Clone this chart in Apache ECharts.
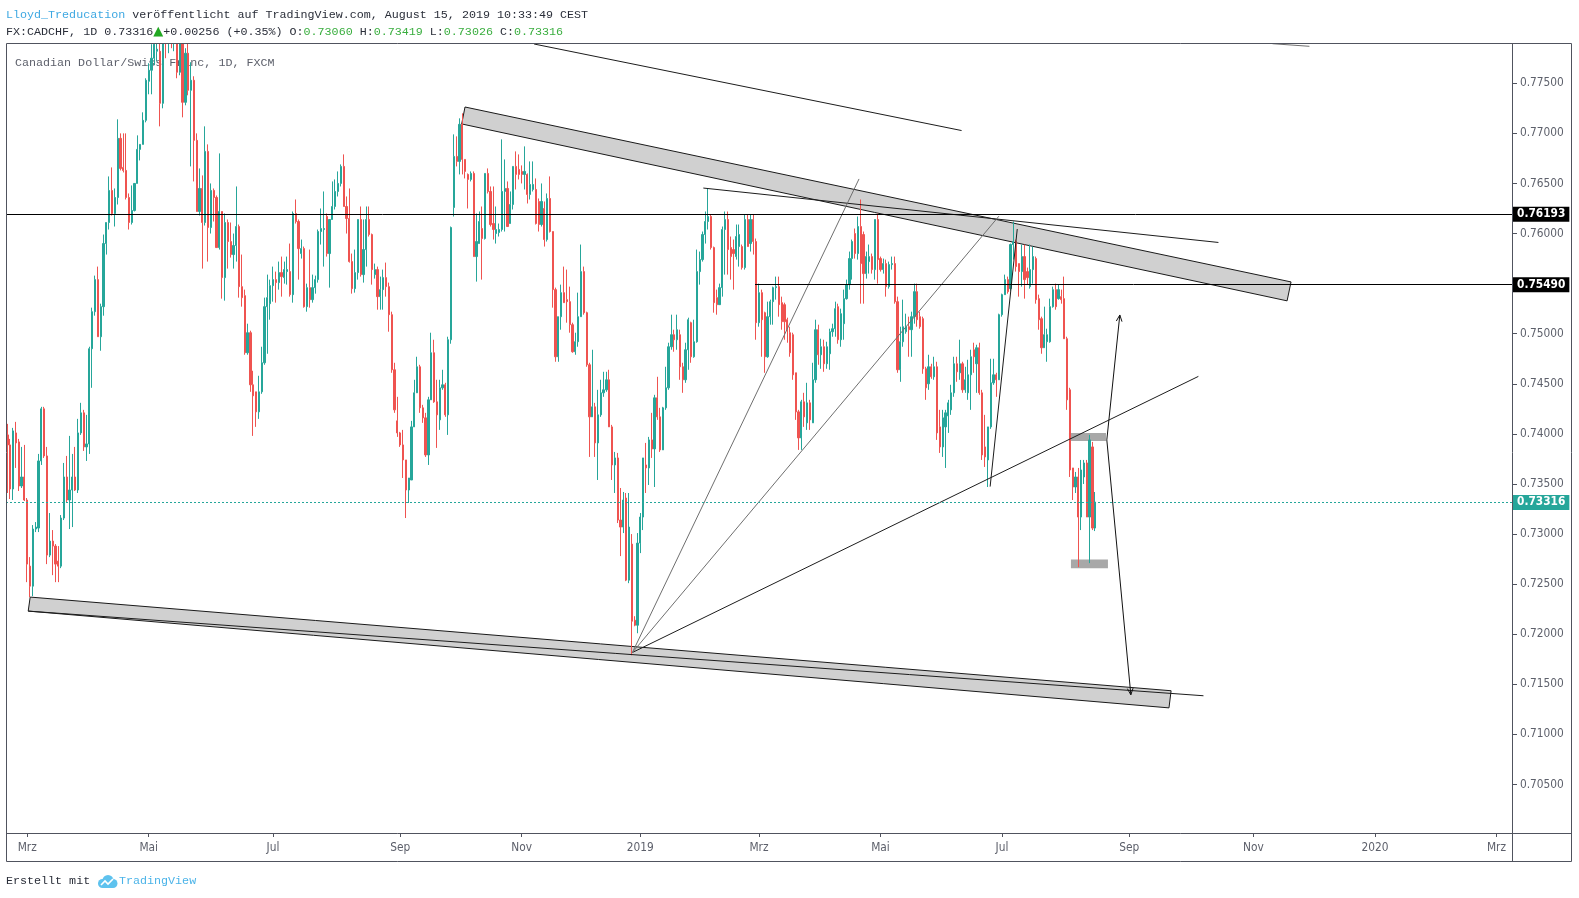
<!DOCTYPE html>
<html>
<head>
<meta charset="utf-8">
<title>CADCHF 1D</title>
<script src="https://cdn.jsdelivr.net/npm/echarts@6.0.0/dist/echarts.min.js"></script>
<style>
  html, body { margin: 0; padding: 0; background: #fff; }
  #chart { width: 1579px; height: 898px; }
</style>
</head>
<body>
<div id="chart"></div>
<script>
// bars are weekdays from the first bar on; the feed has no bar for these two holidays
const firstDay = '2018-02-20';
const holidays = ['2018-12-25', '2019-01-01'];
const barCount = 533;
const monthNames = ['Jan', 'Feb', 'Mrz', 'Apr', 'Mai', 'Jun', 'Jul', 'Aug', 'Sep', 'Okt', 'Nov', 'Dez'];

// daily candles: [open, close, low, high]
const candles = [
  [.7399,.7389,.7341,.7410],[.7389,.7345,.7335,.7395],[.7345,.7403,.7334,.7406],[.7401,.7391,.7366,.7412],[.7392,.7348,.7343,.7395],[.7348,.7357,.7346,.7387],
  [.7357,.7334,.7333,.7389],[.7334,.7270,.7252,.7336],[.7268,.7248,.7237,.7277],[.7248,.7305,.7238,.7309],[.7305,.7307,.7302,.7312],[.7306,.7373,.7302,.7380],
  [.7373,.7425,.7369,.7427],[.7425,.7378,.7376,.7427],[.7378,.7279,.7270,.7387],[.7279,.7293,.7277,.7321],[.7293,.7288,.7259,.7304],[.7288,.7270,.7252,.7290],
  [.7273,.7268,.7252,.7288],[.7268,.7316,.7266,.7319],[.7316,.7357,.7314,.7371],[.7357,.7334,.7332,.7378],[.7334,.7344,.7305,.7398],[.7344,.7357,.7307,.7380],
  [.7357,.7344,.7343,.7387],[.7344,.7401,.7341,.7415],[.7401,.7421,.7399,.7431],[.7421,.7387,.7383,.7424],[.7387,.7390,.7373,.7419],[.7390,.7485,.7380,.7487],
  [.7485,.7522,.7446,.7526],[.7522,.7554,.7518,.7558],[.7554,.7497,.7497,.7567],[.7497,.7527,.7483,.7530],[.7527,.7590,.7518,.7599],[.7590,.7611,.7579,.7611],
  [.7611,.7643,.7604,.7657],[.7643,.7620,.7618,.7666],[.7620,.7636,.7607,.7645],[.7636,.7695,.7629,.7714],[.7695,.7665,.7663,.7700],[.7666,.7663,.7661,.7700],
  [.7663,.7636,.7634,.7700],[.7636,.7611,.7604,.7640],[.7611,.7623,.7609,.7648],[.7623,.7650,.7622,.7650],[.7650,.7684,.7650,.7698],[.7684,.7689,.7673,.7689],
  [.7689,.7713,.7689,.7721],[.7713,.7753,.7711,.7755],[.7752,.7763,.7739,.7770],[.7763,.7775,.7739,.7789],[.7775,.7789,.7768,.7795],[.7782,.7784,.7772,.7800],
  [.7782,.7730,.7707,.7790],[.7730,.7800,.7725,.7812],[.7800,.7790,.7775,.7820],[.7790,.7810,.7780,.7825],[.7810,.7795,.7785,.7830],[.7795,.7805,.7782,.7820],
  [.7800,.7761,.7755,.7810],[.7761,.7790,.7758,.7805],[.7790,.7731,.7716,.7795],[.7731,.7780,.7728,.7785],[.7780,.7743,.7738,.7793],[.7743,.7753,.7667,.7771],
  [.7753,.7693,.7652,.7757],[.7693,.7622,.7622,.7700],[.7622,.7645,.7618,.7665],[.7645,.7611,.7565,.7658],[.7611,.7682,.7608,.7707],[.7682,.7606,.7572,.7689],
  [.7606,.7643,.7600,.7650],[.7643,.7636,.7612,.7645],[.7636,.7586,.7586,.7638],[.7586,.7622,.7584,.7680],[.7622,.7556,.7535,.7622],[.7556,.7611,.7533,.7620],
  [.7611,.7592,.7565,.7614],[.7592,.7579,.7576,.7611],[.7579,.7588,.7565,.7600],[.7588,.7607,.7572,.7647],[.7607,.7547,.7536,.7609],[.7547,.7536,.7527,.7579],
  [.7538,.7481,.7479,.7544],[.7481,.7501,.7479,.7510],[.7501,.7449,.7442,.7503],[.7449,.7438,.7398,.7463],[.7442,.7422,.7407,.7442],[.7422,.7442,.7415,.7458],
  [.7442,.7471,.7440,.7487],[.7471,.7527,.7469,.7536],[.7527,.7536,.7480,.7559],
  [.7530,.7548,.7514,.7554],[.7548,.7554,.7532,.7567],[.7554,.7551,.7531,.7562],[.7551,.7561,.7544,.7572],[.7561,.7557,.7537,.7577],[.7556,.7564,.7550,.7572],
  [.7562,.7564,.7549,.7577],[.7562,.7539,.7537,.7590],[.7539,.7620,.7531,.7622],[.7620,.7612,.7610,.7634],[.7612,.7585,.7554,.7614],[.7580,.7585,.7575,.7594],
  [.7585,.7527,.7526,.7587],[.7527,.7546,.7522,.7550],[.7546,.7534,.7526,.7584],[.7534,.7546,.7531,.7559],[.7546,.7554,.7540,.7558],[.7554,.7602,.7551,.7604],
  [.7602,.7605,.7589,.7625],[.7604,.7605,.7567,.7642],[.7617,.7580,.7577,.7620],[.7580,.7614,.7546,.7614],[.7614,.7627,.7614,.7652],[.7627,.7642,.7624,.7654],
  [.7642,.7650,.7637,.7662],[.7650,.7667,.7647,.7669],[.7667,.7627,.7627,.7679],[.7627,.7615,.7600,.7637],[.7615,.7572,.7571,.7645],[.7572,.7545,.7540,.7580],
  [.7545,.7561,.7541,.7584],[.7561,.7614,.7554,.7614],[.7614,.7559,.7557,.7627],[.7559,.7584,.7551,.7614],[.7584,.7614,.7567,.7627],[.7614,.7599,.7597,.7627],
  [.7599,.7564,.7549,.7600],[.7559,.7564,.7555,.7570],[.7564,.7537,.7524,.7567],[.7537,.7544,.7524,.7557],[.7544,.7556,.7524,.7564],[.7556,.7547,.7537,.7571],
  [.7547,.7519,.7502,.7551],[.7519,.7464,.7461,.7522],[.7464,.7424,.7421,.7471],[.7413,.7401,.7397,.7437],[.7401,.7389,.7387,.7402],[.7389,.7374,.7356,.7404],
  [.7374,.7344,.7316,.7374],[.7344,.7356,.7331,.7356],[.7354,.7407,.7354,.7413],[.7407,.7441,.7407,.7454],[.7441,.7467,.7441,.7477],[.7467,.7426,.7421,.7469],
  [.7426,.7416,.7411,.7429],[.7416,.7379,.7377,.7421],[.7379,.7434,.7369,.7437],[.7434,.7481,.7434,.7501],[.7481,.7432,.7431,.7494],[.7432,.7419,.7386,.7454],
  [.7414,.7446,.7404,.7454],[.7446,.7449,.7444,.7464],[.7449,.7419,.7417,.7451],[.7419,.7494,.7399,.7497],[.7494,.7606,.7490,.7607],[.7626,.7677,.7617,.7699],
  [.7677,.7672,.7667,.7697],[.7672,.7709,.7659,.7715],[.7709,.7674,.7659,.7720],[.7674,.7662,.7655,.7674],[.7659,.7654,.7625,.7660],[.7654,.7660,.7652,.7662],
  [.7660,.7577,.7577,.7662],[.7577,.7592,.7552,.7620],[.7590,.7612,.7590,.7622],[.7605,.7595,.7554,.7627],[.7595,.7660,.7594,.7660],[.7660,.7642,.7640,.7665],
  [.7642,.7609,.7607,.7647],[.7610,.7604,.7594,.7647],[.7600,.7604,.7590,.7627],[.7601,.7604,.7597,.7610],[.7604,.7642,.7602,.7694],[.7642,.7645,.7602,.7674],
  [.7645,.7607,.7607,.7652],[.7610,.7629,.7610,.7642],[.7629,.7667,.7624,.7667],[.7667,.7659,.7644,.7682],[.7664,.7659,.7654,.7679],[.7662,.7659,.7650,.7668],
  [.7659,.7662,.7644,.7687],[.7659,.7639,.7630,.7660],[.7639,.7649,.7634,.7672],[.7644,.7649,.7642,.7672],[.7644,.7610,.7609,.7655],[.7632,.7609,.7602,.7635],
  [.7609,.7632,.7607,.7650],[.7625,.7594,.7587,.7632],[.7594,.7635,.7592,.7640],[.7635,.7602,.7601,.7657],[.7602,.7544,.7526,.7602],[.7544,.7477,.7472,.7546],
  [.7477,.7517,.7472,.7517],[.7517,.7541,.7504,.7549],[.7541,.7531,.7531,.7567],[.7534,.7532,.7511,.7564],[.7532,.7509,.7501,.7547],[.7509,.7482,.7481,.7511],
  [.7482,.7492,.7479,.7501],[.7492,.7517,.7487,.7541],[.7517,.7562,.7517,.7589],[.7562,.7521,.7519,.7567],[.7521,.7469,.7467,.7522],[.7469,.7417,.7377,.7471],
  [.7417,.7427,.7417,.7484],[.7427,.7391,.7377,.7431],[.7391,.7419,.7354,.7444],[.7419,.7441,.7417,.7454],[.7441,.7444,.7437,.7462],[.7444,.7454,.7442,.7462],
  [.7454,.7407,.7407,.7464],[.7407,.7369,.7354,.7409],[.7369,.7376,.7341,.7382],[.7376,.7314,.7311,.7381],[.7314,.7307,.7278,.7346],[.7307,.7334,.7301,.7342],
  [.7336,.7254,.7253,.7341],[.7254,.7307,.7251,.7341],[.7290,.7213,.7179,.7300],[.7214,.7209,.7208,.7218],[.7209,.7291,.7201,.7301],[.7291,.7317,.7281,.7321],
  [.7317,.7376,.7304,.7376],[.7369,.7366,.7341,.7391],[.7366,.7394,.7349,.7397],[.7394,.7385,.7376,.7421],[.7385,.7436,.7347,.7439],[.7436,.7417,.7414,.7457],
  [.7417,.7384,.7382,.7426],[.7384,.7426,.7384,.7427],[.7426,.7446,.7424,.7467],[.7446,.7487,.7444,.7491],[.7487,.7499,.7484,.7519],[.7499,.7494,.7482,.7504],
  [.7494,.7504,.7484,.7519],[.7499,.7467,.7454,.7504],[.7467,.7454,.7441,.7471],[.7454,.7484,.7451,.7491],[.7484,.7514,.7464,.7516],[.7511,.7477,.7471,.7512],
  [.7477,.7492,.7476,.7514],[.7492,.7562,.7491,.7584],[.7562,.7574,.7549,.7582],[.7574,.7599,.7572,.7602],[.7599,.7612,.7590,.7622],[.7612,.7617,.7604,.7645],
  [.7617,.7586,.7584,.7619],[.7586,.7531,.7521,.7587],[.7536,.7529,.7519,.7544],[.7529,.7546,.7529,.7550],[.7546,.7604,.7537,.7607],[.7604,.7614,.7559,.7622],
  [.7614,.7584,.7559,.7622],[.7586,.7577,.7554,.7597],[.7584,.7580,.7544,.7594],[.7577,.7597,.7574,.7609],[.7587,.7599,.7567,.7609],[.7587,.7566,.7564,.7589],
  [.7566,.7614,.7564,.7619],[.7614,.7587,.7587,.7619],[.7590,.7614,.7582,.7619],[.7614,.7592,.7579,.7619],[.7592,.7511,.7494,.7595],[.7511,.7541,.7507,.7550],
  [.7541,.7514,.7477,.7544],[.7521,.7477,.7461,.7522],[.7477,.7517,.7476,.7532],[.7517,.7532,.7509,.7534],[.7532,.7546,.7509,.7547],[.7546,.7547,.7534,.7557],
  [.7547,.7529,.7517,.7557],[.7531,.7512,.7504,.7537],[.7529,.7512,.7494,.7531],[.7514,.7504,.7491,.7516],[.7501,.7481,.7477,.7507],[.7499,.7459,.7454,.7501],
  [.7461,.7422,.7414,.7461],[.7422,.7396,.7384,.7424],[.7396,.7432,.7384,.7434],[.7432,.7417,.7407,.7441],[.7411,.7431,.7404,.7451],[.7431,.7414,.7404,.7434],
  [.7411,.7454,.7411,.7471],[.7454,.7504,.7451,.7514],
  [.7504,.7479,.7469,.7509],[.7479,.7487,.7465,.7495],[.7487,.7470,.7462,.7494],[.7470,.7487,.7465,.7492],[.7480,.7502,.7464,.7505],[.7502,.7505,.7497,.7510],
  [.7505,.7525,.7497,.7532],[.7527,.7494,.7490,.7530],[.7494,.7520,.7487,.7525],[.7510,.7535,.7494,.7544],[.7535,.7549,.7534,.7554],[.7549,.7575,.7544,.7582],
  [.7575,.7592,.7554,.7594],[.7600,.7580,.7575,.7605],[.7580,.7607,.7574,.7617],[.7607,.7570,.7530,.7634],[.7599,.7560,.7530,.7602],[.7560,.7577,.7555,.7582],
  [.7572,.7577,.7560,.7589],[.7577,.7564,.7560,.7580],[.7564,.7614,.7554,.7614],[.7614,.7574,.7550,.7620],[.7575,.7564,.7562,.7577],[.7564,.7570,.7560,.7575],
  [.7570,.7547,.7537,.7574],[.7547,.7569,.7545,.7572],[.7569,.7570,.7564,.7577],[.7570,.7532,.7530,.7577],[.7532,.7464,.7461,.7537],[.7464,.7492,.7452,.7507],
  [.7492,.7507,.7487,.7534],[.7502,.7507,.7500,.7520],[.7507,.7504,.7477,.7517],[.7504,.7517,.7477,.7522],[.7517,.7542,.7510,.7550],[.7542,.7514,.7507,.7550],
  [.7517,.7507,.7505,.7522],[.7515,.7465,.7460,.7517],[.7465,.7446,.7434,.7467],[.7450,.7467,.7444,.7479],[.7467,.7457,.7455,.7470],[.7457,.7467,.7454,.7477],
  [.7467,.7401,.7394,.7472],[.7407,.7387,.7381,.7424],[.7387,.7416,.7377,.7424],[.7407,.7421,.7366,.7424],[.7418,.7431,.7401,.7434],[.7424,.7441,.7419,.7449],
  [.7441,.7470,.7437,.7477],[.7470,.7462,.7452,.7477],[.7461,.7470,.7454,.7494],[.7470,.7444,.7441,.7472],[.7444,.7454,.7441,.7467],[.7441,.7459,.7434,.7474],
  [.7459,.7477,.7424,.7484],[.7484,.7477,.7461,.7491],[.7470,.7486,.7441,.7489],[.7486,.7441,.7439,.7491],[.7441,.7379,.7374,.7444],[.7387,.7377,.7367,.7419],
  [.7374,.7407,.7347,.7407],[.7407,.7451,.7405,.7475],[.7451,.7459,.7449,.7475],[.7459,.7454,.7437,.7461],[.7454,.7519,.7454,.7520],[.7519,.7539,.7517,.7540],
  [.7539,.7554,.7539,.7559],[.7554,.7542,.7540,.7557],[.7545,.7589,.7543,.7590],[.7589,.7592,.7574,.7612],[.7592,.7567,.7562,.7594],[.7570,.7562,.7537,.7570],
  [.7562,.7577,.7547,.7589],[.7577,.7554,.7535,.7589],[.7562,.7556,.7549,.7566],[.7547,.7564,.7545,.7589],[.7564,.7577,.7550,.7587],[.7575,.7534,.7530,.7577],
  [.7535,.7514,.7504,.7539],[.7515,.7486,.7480,.7517],[.7486,.7499,.7486,.7527],[.7492,.7499,.7472,.7505],[.7492,.7527,.7491,.7535],[.7527,.7544,.7526,.7547],
  [.7544,.7527,.7524,.7550],[.7535,.7544,.7534,.7549],[.7537,.7534,.7530,.7544],[.7535,.7495,.7495,.7557],[.7495,.7434,.7424,.7497],[.7444,.7364,.7357,.7446],
  [.7366,.7347,.7334,.7366],[.7347,.7357,.7341,.7362],[.7357,.7317,.7267,.7366],[.7317,.7364,.7304,.7374],[.7357,.7371,.7350,.7374],[.7371,.7317,.7317,.7374],
  [.7317,.7394,.7271,.7399],[.7387,.7306,.7304,.7392],[.7306,.7332,.7303,.7342]
];

const priceTicks = [0.705, 0.71, 0.715, 0.72, 0.725, 0.73, 0.735, 0.74, 0.745, 0.75, 0.76, 0.765, 0.77, 0.775];
const yMin = 0.70016;
const yMax = 0.77902;
const lastPrice = 0.73316;
const levelFull = 0.76193;
const levelPart = [264.6, 0.75490];   // starts at bar 264.6, runs to the right edge

// drawings: bar position (fractional bar index) and price
const darkLines = [
  [186.4, 0.77892, 337.7, 0.77028],
  [246.3, 0.76454, 428.6, 0.75911],
  [347.8, 0.73474, 357.4, 0.76045],
  [221.2, 0.71818, 421.5, 0.74574],
  [7.36, 0.72231, 423.3, 0.71386]
];
const greyLines = [
  [221.2, 0.71818, 301.4, 0.76545],
  [221.2, 0.71818, 350.9, 0.76173],
  [447.7, 0.77895, 460.8, 0.77869]
];
const bands = [
  [161.95, 0.77263, 454.3, 0.75517, 452.9, 0.75328, 160.78, 0.77094],
  [8.06, 0.72371, 411.85, 0.71436, 411.1, 0.71265, 7.36, 0.72231]
];
const boxes = [
  [375.7, 0.7401, 388.8, 0.7393],
  [376.4, 0.72747, 389.5, 0.72659]
];
const arrows = [
  [389.1, 0.7394, 393.7, 0.75187],
  [389.1, 0.7394, 397.6, 0.71396]
];

const dates = [];
for (let d = new Date(firstDay + 'T00:00:00Z'); dates.length < barCount; d.setUTCDate(d.getUTCDate() + 1)) {
  const wd = d.getUTCDay();
  const s = d.toISOString().slice(0, 10);
  if (wd !== 0 && wd !== 6 && holidays.indexOf(s) < 0) dates.push(s);
}

// first bar of Jan, Mrz, Mai, Jul, Sep, Nov
function isLabelBar(i) {
  if (i === 0) return false;
  const m = +dates[i].slice(5, 7);
  const pm = +dates[i - 1].slice(5, 7);
  return m !== pm && m % 2 === 1;
}

const monoFont = '"Liberation Mono", "DejaVu Sans Mono", monospace';
const axisFont = '"DejaVu Sans Condensed", "DejaVu Sans", sans-serif';
const axisColor = '#50535e';
const labelColor = '#5d606b';
const upColor = '#26a69a';
const downColor = '#ef5350';

function priceTag(bg, text) {
  return {
    show: true, position: 'end', distance: 1,
    formatter: function (p) { return text || Number(p.value).toFixed(5); },
    color: '#fff', backgroundColor: bg, padding: [2, 4, 1, 4],
    fontFamily: axisFont, fontSize: 11.8, fontWeight: 'bold'
  };
}

function segment(stroke) {
  return function (params, api) {
    const a = api.coord([api.value(0), api.value(1)]);
    const b = api.coord([api.value(2), api.value(3)]);
    return { type: 'line', shape: { x1: a[0], y1: a[1], x2: b[0], y2: b[1] }, style: { stroke: stroke, lineWidth: 1 } };
  };
}

function polygon(params, api) {
  const pts = [];
  for (let k = 0; k < 8; k += 2) pts.push(api.coord([api.value(k), api.value(k + 1)]));
  return { type: 'polygon', shape: { points: pts }, style: { fill: 'rgba(150,150,150,0.45)', stroke: '#1a1a1a', lineWidth: 1 } };
}

function box(params, api) {
  const a = api.coord([api.value(0), api.value(1)]);
  const b = api.coord([api.value(2), api.value(3)]);
  return {
    type: 'rect',
    shape: { x: Math.min(a[0], b[0]), y: Math.min(a[1], b[1]), width: Math.abs(b[0] - a[0]), height: Math.abs(b[1] - a[1]) },
    style: { fill: 'rgba(110,110,110,0.6)' }
  };
}

function arrow(params, api) {
  const a = api.coord([api.value(0), api.value(1)]);
  const b = api.coord([api.value(2), api.value(3)]);
  const ang = Math.atan2(b[1] - a[1], b[0] - a[0]);
  const len = 7, spread = 0.42;
  const h1 = [b[0] - len * Math.cos(ang - spread), b[1] - len * Math.sin(ang - spread)];
  const h2 = [b[0] - len * Math.cos(ang + spread), b[1] - len * Math.sin(ang + spread)];
  return {
    type: 'group',
    children: [
      { type: 'line', shape: { x1: a[0], y1: a[1], x2: b[0], y2: b[1] }, style: { stroke: '#111', lineWidth: 1 } },
      { type: 'polyline', shape: { points: [h1, b, h2] }, style: { stroke: '#111', lineWidth: 1, fill: null } }
    ]
  };
}

const chart = echarts.init(document.getElementById('chart'));

chart.setOption({
  animation: false,
  backgroundColor: '#ffffff',
  grid: { left: 6, right: 67, top: 43, bottom: 65, show: false },
  xAxis: [
    {
      type: 'category', data: dates, boundaryGap: true,
      axisLine: { show: false, onZero: false },
      axisTick: { show: true, alignWithLabel: true, length: 4, interval: function (i) { return isLabelBar(i); }, lineStyle: { color: axisColor } },
      axisLabel: {
        interval: function (i) { return isLabelBar(i); },
        formatter: function (v) { const m = +v.slice(5, 7); return m === 1 ? v.slice(0, 4) : monthNames[m - 1]; },
        color: labelColor, fontFamily: axisFont, fontSize: 11.8, margin: 9
      },
      splitLine: { show: false }
    },
    { type: 'value', min: -0.5, max: barCount - 0.5, show: false, axisLine: { onZero: false } }
  ],
  yAxis: {
    type: 'value', position: 'right', min: yMin, max: yMax,
    splitLine: { show: false },
    axisLine: { show: false, onZero: false },
    axisTick: { show: true, customValues: priceTicks, length: 5, lineStyle: { color: axisColor } },
    axisLabel: {
      customValues: priceTicks, formatter: function (v) { return v.toFixed(5); },
      color: labelColor, fontFamily: axisFont, fontSize: 11.8, margin: 8
    }
  },
  graphic: [
    // white strip over the header: candles above the price range are cut at the plot top
    { type: 'rect', z: 40, shape: { x: 0, y: 0, width: 1579, height: 43 }, style: { fill: '#ffffff' } },
    {
      type: 'text', x: 6, y: 15, z: 50,
      style: {
        text: '{u|Lloyd_Treducation}{t| veröffentlicht auf TradingView.com, August 15, 2019 10:33:49 CEST}',
        verticalAlign: 'middle', textVerticalAlign: 'middle',
        rich: {
          u: { fill: '#3ea8e2', fontSize: 11.7, fontFamily: monoFont },
          t: { fill: '#2a2e39', fontSize: 11.7, fontFamily: monoFont }
        }
      }
    },
    {
      type: 'text', x: 6, y: 32, z: 50,
      style: {
        text: '{t|FX:CADCHF, 1D 0.73316}{g|▲}{t|+0.00256 (+0.35%) O:}{v|0.73060}{t| H:}{v|0.73419}{t| L:}{v|0.73026}{t| C:}{v|0.73316}',
        verticalAlign: 'middle', textVerticalAlign: 'middle',
        rich: {
          t: { fill: '#2a2e39', fontSize: 11.7, fontFamily: monoFont },
          v: { fill: '#3aae3f', fontSize: 11.7, fontFamily: monoFont },
          g: { fill: '#22a822', fontSize: 13, fontFamily: 'DejaVu Sans' }
        }
      }
    },
    {
      type: 'text', x: 15, y: 63, z: 0,
      style: { text: 'Canadian Dollar/Swiss Franc, 1D, FXCM', fill: '#5d606b', font: '11.7px ' + monoFont, verticalAlign: 'middle', textVerticalAlign: 'middle' }
    },
    {
      type: 'text', x: 6, y: 881, z: 50,
      style: { text: 'Erstellt mit', fill: '#2a2e39', font: '11.7px ' + monoFont, verticalAlign: 'middle', textVerticalAlign: 'middle' }
    },
    {
      type: 'group', x: 97, y: 874, z: 50,
      children: [
        { type: 'circle', shape: { cx: 5.5, cy: 9.5, r: 4.5 }, style: { fill: '#5ec2ee' } },
        { type: 'circle', shape: { cx: 11, cy: 6.5, r: 5.5 }, style: { fill: '#5ec2ee' } },
        { type: 'circle', shape: { cx: 16, cy: 9.5, r: 4.5 }, style: { fill: '#5ec2ee' } },
        { type: 'rect', shape: { x: 5.5, y: 9, width: 10.5, height: 5 }, style: { fill: '#5ec2ee' } },
        { type: 'polyline', shape: { points: [[4, 11], [8, 7], [11, 10], [16, 5]] }, style: { stroke: '#fff', lineWidth: 1.6, fill: null } }
      ]
    },
    {
      type: 'text', x: 119, y: 881, z: 50,
      style: { text: 'TradingView', fill: '#4ab3e8', font: '11.7px ' + monoFont, verticalAlign: 'middle', textVerticalAlign: 'middle' }
    },
    { type: 'rect', z: 60, shape: { x: 6.5, y: 43.5, width: 1565, height: 818 }, style: { fill: 'transparent', stroke: axisColor, lineWidth: 1 } },
    { type: 'line', z: 60, shape: { x1: 6.5, y1: 833.5, x2: 1571.5, y2: 833.5 }, style: { stroke: axisColor, lineWidth: 1 } },
    { type: 'line', z: 60, shape: { x1: 1512.5, y1: 43.5, x2: 1512.5, y2: 861.5 }, style: { stroke: axisColor, lineWidth: 1 } }
  ],
  series: [
    { type: 'custom', name: 'bands', xAxisIndex: 1, z: 1, silent: true, clip: true, renderItem: polygon, data: bands },
    { type: 'custom', name: 'boxes', xAxisIndex: 1, z: 1, silent: true, clip: true, renderItem: box, data: boxes },
    {
      // body wider than 1.3 px so ECharts draws real boxes, not simple lines
      type: 'candlestick', name: 'FX:CADCHF', xAxisIndex: 0, z: 2, data: candles, barWidth: 1.7, clip: true,
      itemStyle: { color: upColor, color0: downColor, borderColor: upColor, borderColor0: downColor, borderWidth: 1 },
      markLine: {
        silent: true, symbol: ['none', 'none'], animation: false, precision: 5,
        data: [
          { yAxis: levelFull, lineStyle: { color: '#000', width: 1, type: 'solid' }, label: priceTag('#000') },
          { yAxis: lastPrice, lineStyle: { color: upColor, width: 1, type: [2, 2] }, label: priceTag(upColor) }
        ]
      }
    },
    { type: 'custom', name: 'lines', xAxisIndex: 1, z: 3, silent: true, clip: true, renderItem: segment('#1c1c1c'), data: darkLines },
    { type: 'custom', name: 'fan', xAxisIndex: 1, z: 3, silent: true, clip: true, renderItem: segment('#6f6f6f'), data: greyLines },
    { type: 'custom', name: 'arrows', xAxisIndex: 1, z: 3, silent: true, clip: true, renderItem: arrow, data: arrows },
    {
      type: 'line', name: 'level', xAxisIndex: 1, z: 3, silent: true, showSymbol: false, symbol: 'none',
      data: [[levelPart[0], levelPart[1]]], lineStyle: { width: 0 },
      markLine: {
        silent: true, symbol: ['none', 'none'], animation: false, precision: 5,
        lineStyle: { color: '#000', width: 1, type: 'solid' },
        label: priceTag('#000', levelPart[1].toFixed(5)),
        data: [[{ coord: [levelPart[0], levelPart[1]] }, { coord: [barCount - 0.5, levelPart[1]] }]]
      }
    }
  ]
});
</script>
</body>
</html>
